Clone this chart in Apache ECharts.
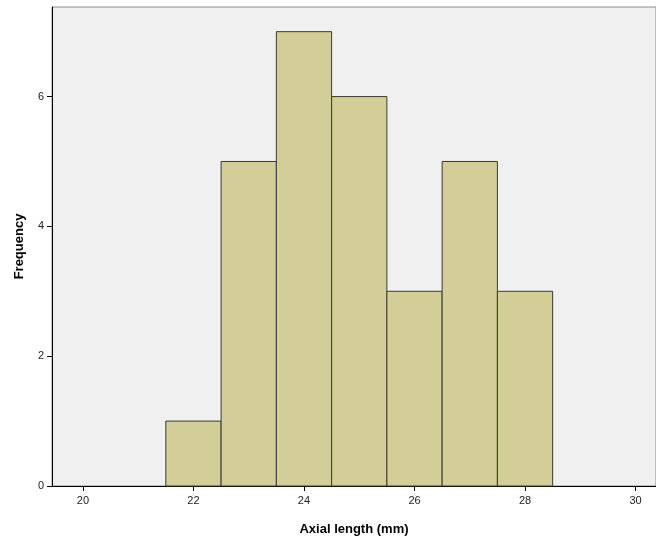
<!DOCTYPE html>
<html><head><meta charset="utf-8">
<script src="https://cdn.jsdelivr.net/npm/echarts@6/dist/echarts.min.js"></script>
<style>html,body{margin:0;padding:0;background:#fff}#c{width:656px;height:540px}</style>
</head><body><div id="c"></div>
<script>
var binStarts = [21.5, 22.5, 23.5, 24.5, 25.5, 26.5, 27.5];
var binWidth = 1;
var counts = [1, 5, 7, 6, 3, 5, 3];
var xTicks = [20, 22, 24, 26, 28, 30];
var yTicks = [0, 2, 4, 6];
var xTitle = 'Axial length (mm)';
var yTitle = 'Frequency';

var data = binStarts.map(function (s, i) { return [s, s + binWidth, counts[i]]; });
var chart = echarts.init(document.getElementById('c'));
chart.setOption({
  animation: false,
  backgroundColor: '#fff',
  grid: { left: 52, top: 7, right: 0, bottom: 54, outerBoundsMode: 'none', containLabel: false, show: true, backgroundColor: '#f0f0f0', borderColor: '#8c8c8c', borderWidth: 1 },
  xAxis: {
    type: 'value', min: 19.44, max: 30.37,
    name: xTitle, nameLocation: 'middle', nameGap: 37, nameMoveOverlap: false,
    nameTextStyle: { fontFamily: 'Liberation Sans', fontWeight: 'bold', fontSize: 13, color: '#000' },
    axisLine: { show: true, lineStyle: { color: '#000', width: 1 } },
    axisTick: { show: true, length: 5, customValues: xTicks, lineStyle: { color: '#000' } },
    axisLabel: { customValues: xTicks, fontFamily: 'Liberation Sans', fontSize: 11, color: '#222', margin: 9 },
    splitLine: { show: false }
  },
  yAxis: {
    type: 'value', min: 0, max: 7.38,
    name: yTitle, nameLocation: 'middle', nameGap: 26, nameRotate: 90, nameMoveOverlap: false,
    nameTextStyle: { fontFamily: 'Liberation Sans', fontWeight: 'bold', fontSize: 13, color: '#000' },
    axisLine: { show: true, lineStyle: { color: '#000', width: 1 } },
    axisTick: { show: true, length: 5, customValues: yTicks, lineStyle: { color: '#000' } },
    axisLabel: { customValues: yTicks, fontFamily: 'Liberation Sans', fontSize: 11, color: '#222', margin: 8 },
    splitLine: { show: false }
  },
  series: [{
    type: 'custom',
    data: data,
    encode: { x: [0, 1], y: 2 },
    renderItem: function (params, api) {
      var p0 = api.coord([api.value(0), api.value(2)]);
      var p1 = api.coord([api.value(1), 0]);
      return {
        type: 'rect',
        shape: { x: p0[0], y: p0[1], width: p1[0] - p0[0], height: p1[1] - p0[1] },
        style: { fill: '#d3ce97', stroke: '#3a3a32', lineWidth: 1 }
      };
    }
  }]
});
</script></body></html>
